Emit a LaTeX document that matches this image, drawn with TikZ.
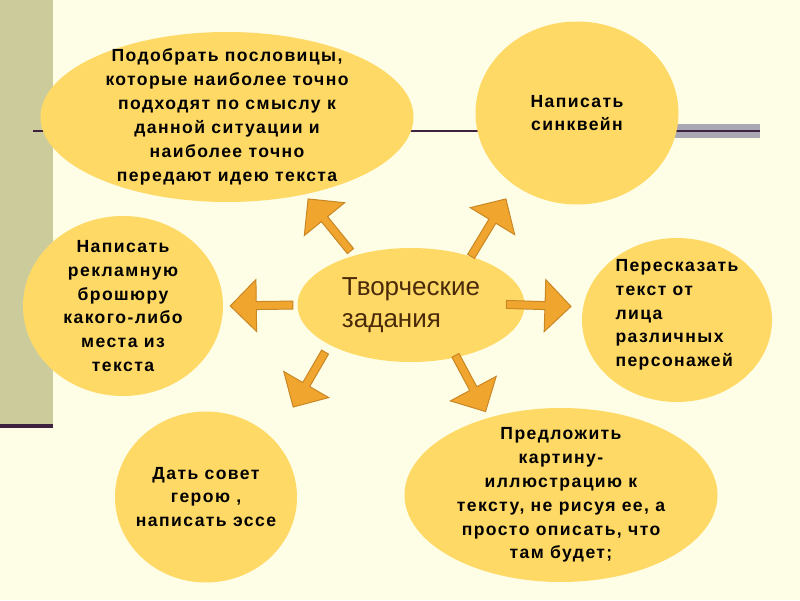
\documentclass[tikz,border=0pt]{standalone}
\usepackage{fontspec}
\setmainfont{Liberation Sans}
\newfontfamily\bubblefont[LetterSpace=8]{Liberation Sans}
\usepackage{xcolor}
\usepackage{tikz}
\usetikzlibrary{shapes.geometric, calc}
\definecolor{slideBack}{HTML}{FEFEE6}
\definecolor{slideBar}{HTML}{CBCB9C}
\definecolor{slideLine}{HTML}{3E2340}
\definecolor{slideBand}{HTML}{A9A7B3}
\definecolor{taskBubble}{HTML}{FFD966}
\definecolor{taskArrow}{HTML}{F0A52E}
\definecolor{taskArrowEdge}{HTML}{C98624}
\definecolor{taskText}{HTML}{4A2A08}

% block arrow between two node anchors: #3 / #4 = gap at start / end
\newcommand{\blockarrow}[4]{%
  \coordinate (ba-s) at ($(#1)!#3!(#2)$);
  \coordinate (ba-e) at ($(#2)!#4!(#1)$);
  \coordinate (ba-h) at ($(ba-e)!0.65cm!(ba-s)$);
  \filldraw[arrowbody] ($(ba-s)!0.1cm!90:(ba-e)$) -- ($(ba-h)!0.1cm!-90:(ba-s)$)
    -- ($(ba-h)!0.65cm!-90:(ba-s)$) -- (ba-e) -- ($(ba-h)!0.65cm!90:(ba-s)$)
    -- ($(ba-h)!0.1cm!90:(ba-s)$) -- ($(ba-s)!0.1cm!-90:(ba-e)$) -- cycle;
}

\begin{document}
\begin{tikzpicture}[
  bubble/.style={ellipse, fill=taskBubble, inner sep=-30pt, align=center,
                 font=\bubblefont\fontsize{12.5}{17}\selectfont\bfseries},
  arrowbody/.style={fill=taskArrow, draw=taskArrowEdge, line width=0.7pt, line join=miter}
]
\useasboundingbox (0,0) rectangle (20,15);
% slide background
\fill[slideBack] (0,0) rectangle (20,15);
\fill[slideBar] (0,4.4) rectangle (1.325,15);
\fill[slideLine] (0,4.3) rectangle (1.325,4.4);
\fill[slideBand] (16,11.56) rectangle (19,11.9);
\draw[slideLine, line width=1.2pt] (0.825,11.73) -- (19,11.73);

\node[bubble, minimum width=9.325cm, minimum height=4.25cm] (proverbs) at (5.675,12.075)
  {Подобрать пословицы,\\которые наиболее точно\\подходят по смыслу к\\данной ситуации и\\наиболее точно\\передают идею текста};
\node[bubble, minimum width=5.075cm, minimum height=4.575cm] (sinkwine) at (14.425,12.175)
  {Написать\\синквейн};
\node[bubble, minimum width=5cm, minimum height=4.5cm] (brochure) at (3.075,7.35)
  {Написать\\рекламную\\брошюру\\какого-либо\\места из\\текста};
\node[bubble, align=left, minimum width=4.75cm, minimum height=4.1cm] (retell) at (16.925,7)
  {Пересказать\\текст от\\лица\\различных\\персонажей\\[-7pt]\mbox{}};
\node[bubble, minimum width=4.55cm, minimum height=4.275cm] (advice) at (5.15,2.575)
  {Дать совет\\герою ,\\написать эссе};
\node[bubble, minimum width=7.825cm, minimum height=4.35cm] (illustr) at (14.025,2.625)
  {Предложить\\картину-\\иллюстрацию к\\тексту, не рисуя ее, а\\просто описать, что\\там будет;};
\node[bubble, align=left, font=\fontsize{18.5}{22.5}\selectfont, text=taskText,
      minimum width=5.675cm, minimum height=2.85cm] (task) at (10.275,7.375)
  {Творческие\\задания};

\blockarrow{task.139}{proverbs.315}{0.14cm}{0.14cm}
\blockarrow{task.39}{sinkwine.229}{0cm}{0.4cm}
\blockarrow{task.180}{brochure.0}{0.11cm}{0.175cm}
\blockarrow{task.0}{retell.172}{-0.46cm}{0.3cm}
\blockarrow{task.206}{advice.40}{0.21cm}{0.95cm}
\blockarrow{task.311}{illustr.133}{-0.06cm}{0.17cm}
\end{tikzpicture}
\end{document}
